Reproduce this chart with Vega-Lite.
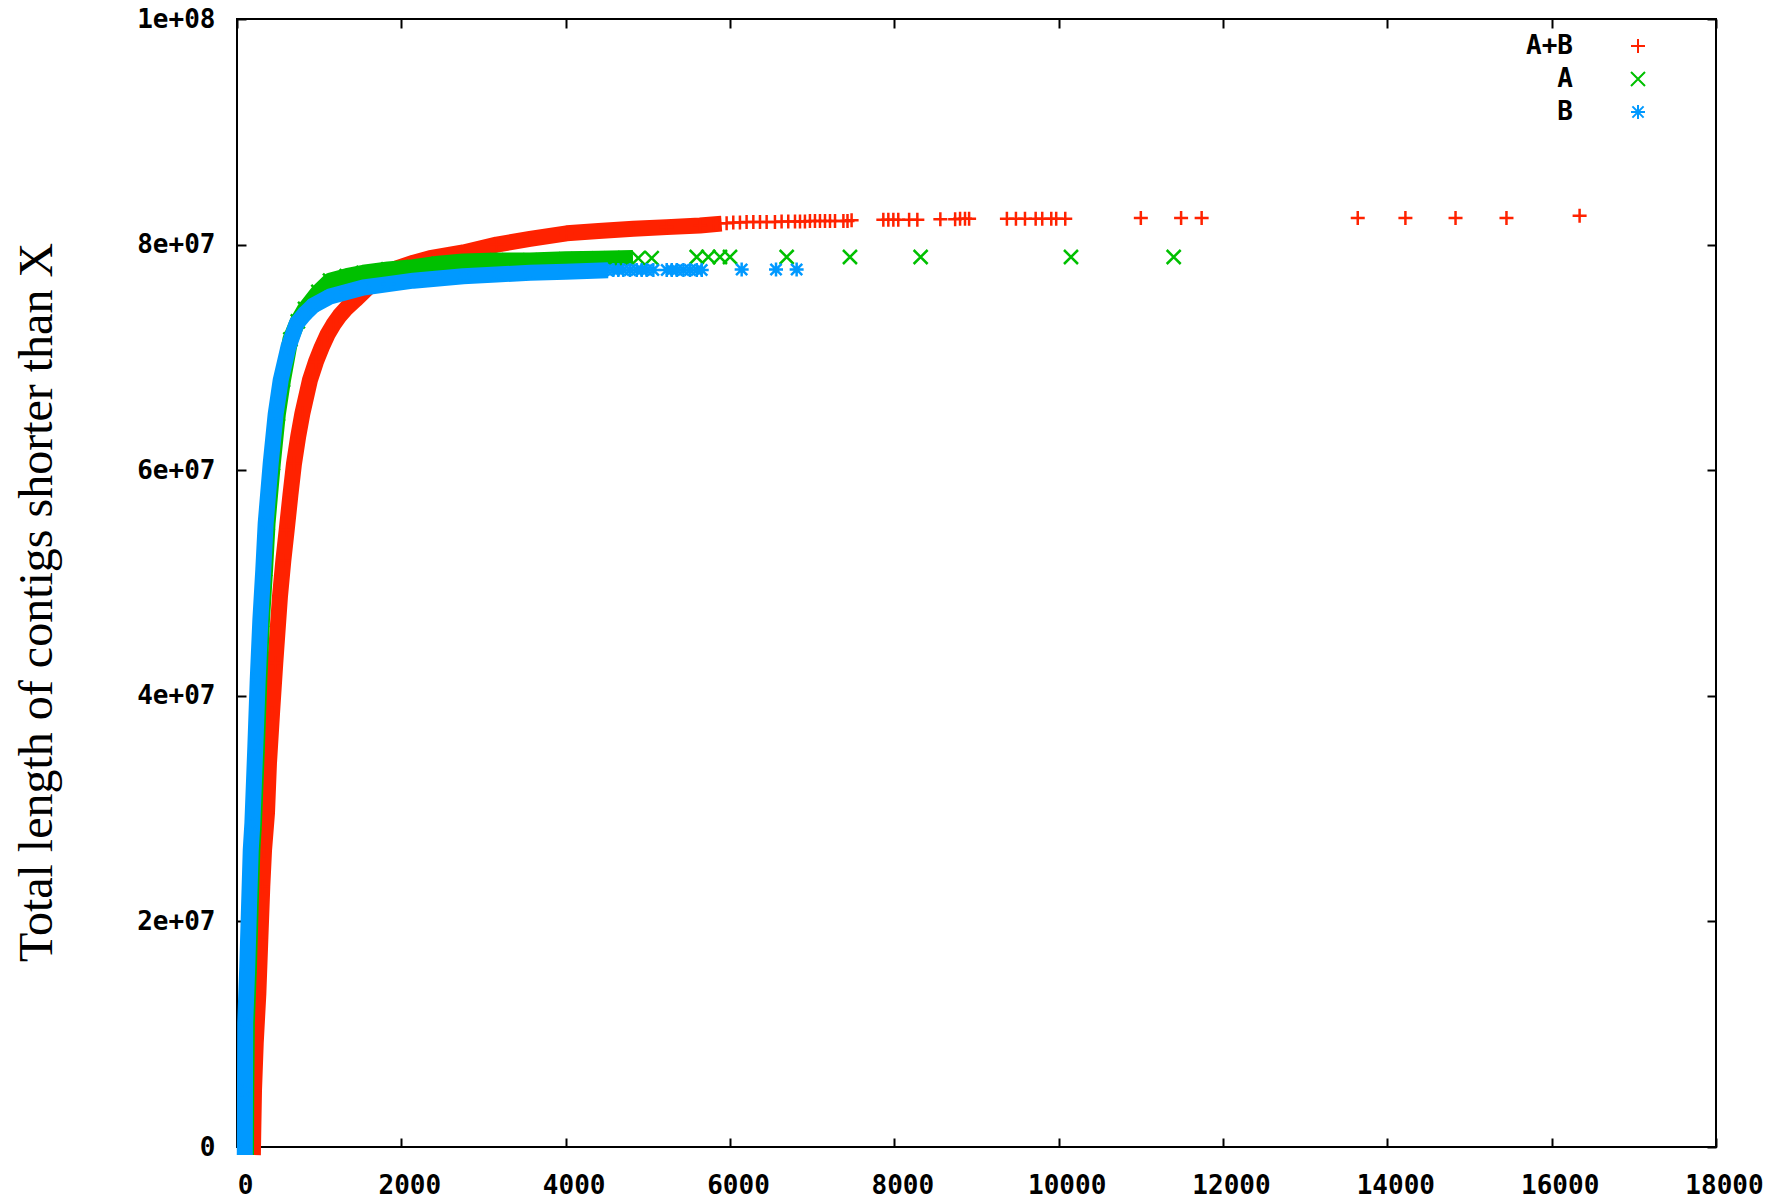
{
  "$schema": "https://vega.github.io/schema/vega-lite/v6.json",
  "width": 1479,
  "height": 1128,
  "autosize": {"type": "none"},
  "padding": {"left": 237, "top": 19, "right": 66, "bottom": 54},
  "background": "white",
  "config": {
    "view": {"stroke": "black", "strokeWidth": 2},
    "legend": {
      "labelFont": "DejaVu Sans Mono",
      "labelFontWeight": "bold",
      "labelFontSize": 26,
      "labelColor": "black",
      "labelAlign": "right",
      "labelOffset": -78,
      "symbolSize": 196,
      "symbolStrokeWidth": 2,
      "rowPadding": 7
    }
  },
  "data": {
    "values": [
      {"s": "A+B", "x": 195, "y": 0},
      {"s": "A+B", "x": 199, "y": 1800000},
      {"s": "A+B", "x": 207, "y": 5000000},
      {"s": "A+B", "x": 228, "y": 9200000},
      {"s": "A+B", "x": 260, "y": 13600000},
      {"s": "A+B", "x": 284, "y": 18400000},
      {"s": "A+B", "x": 308, "y": 23100000},
      {"s": "A+B", "x": 329, "y": 26300000},
      {"s": "A+B", "x": 365, "y": 29600000},
      {"s": "A+B", "x": 389, "y": 34000000},
      {"s": "A+B", "x": 426, "y": 38400000},
      {"s": "A+B", "x": 466, "y": 42900000},
      {"s": "A+B", "x": 523, "y": 48800000},
      {"s": "A+B", "x": 564, "y": 52000000},
      {"s": "A+B", "x": 605, "y": 54700000},
      {"s": "A+B", "x": 650, "y": 57800000},
      {"s": "A+B", "x": 694, "y": 60600000},
      {"s": "A+B", "x": 745, "y": 63000000},
      {"s": "A+B", "x": 795, "y": 65000000},
      {"s": "A+B", "x": 888, "y": 68000000},
      {"s": "A+B", "x": 960, "y": 69600000},
      {"s": "A+B", "x": 1031, "y": 70900000},
      {"s": "A+B", "x": 1100, "y": 72000000},
      {"s": "A+B", "x": 1172, "y": 72900000},
      {"s": "A+B", "x": 1250, "y": 73700000},
      {"s": "A+B", "x": 1335, "y": 74400000},
      {"s": "A+B", "x": 1440, "y": 75100000},
      {"s": "A+B", "x": 1540, "y": 75800000},
      {"s": "A+B", "x": 1640, "y": 76500000},
      {"s": "A+B", "x": 1750, "y": 77100000},
      {"s": "A+B", "x": 1944, "y": 77900000},
      {"s": "A+B", "x": 2150, "y": 78400000},
      {"s": "A+B", "x": 2349, "y": 78800000},
      {"s": "A+B", "x": 2754, "y": 79300000},
      {"s": "A+B", "x": 3160, "y": 80000000},
      {"s": "A+B", "x": 3566, "y": 80500000},
      {"s": "A+B", "x": 4012, "y": 81000000},
      {"s": "A+B", "x": 4400, "y": 81200000},
      {"s": "A+B", "x": 4823, "y": 81400000},
      {"s": "A+B", "x": 5230, "y": 81550000},
      {"s": "A+B", "x": 5635, "y": 81700000},
      {"s": "A+B", "x": 5800, "y": 81800000},
      {"s": "A+B", "x": 5878, "y": 81900000},
      {"s": "A+B", "x": 5959, "y": 81900000},
      {"s": "A+B", "x": 6040, "y": 81950000},
      {"s": "A+B", "x": 6121, "y": 81950000},
      {"s": "A+B", "x": 6202, "y": 82000000},
      {"s": "A+B", "x": 6284, "y": 82000000},
      {"s": "A+B", "x": 6365, "y": 82000000},
      {"s": "A+B", "x": 6446, "y": 82000000},
      {"s": "A+B", "x": 6547, "y": 82000000},
      {"s": "A+B", "x": 6628, "y": 82050000},
      {"s": "A+B", "x": 6709, "y": 82050000},
      {"s": "A+B", "x": 6791, "y": 82050000},
      {"s": "A+B", "x": 6852, "y": 82050000},
      {"s": "A+B", "x": 6912, "y": 82050000},
      {"s": "A+B", "x": 6973, "y": 82100000},
      {"s": "A+B", "x": 7034, "y": 82100000},
      {"s": "A+B", "x": 7095, "y": 82100000},
      {"s": "A+B", "x": 7156, "y": 82100000},
      {"s": "A+B", "x": 7217, "y": 82100000},
      {"s": "A+B", "x": 7278, "y": 82100000},
      {"s": "A+B", "x": 7380, "y": 82100000},
      {"s": "A+B", "x": 7430, "y": 82100000},
      {"s": "A+B", "x": 7480, "y": 82150000},
      {"s": "A+B", "x": 7866, "y": 82200000},
      {"s": "A+B", "x": 7927, "y": 82200000},
      {"s": "A+B", "x": 7988, "y": 82200000},
      {"s": "A+B", "x": 8048, "y": 82200000},
      {"s": "A+B", "x": 8180, "y": 82200000},
      {"s": "A+B", "x": 8280, "y": 82200000},
      {"s": "A+B", "x": 8560, "y": 82250000},
      {"s": "A+B", "x": 8740, "y": 82250000},
      {"s": "A+B", "x": 8800, "y": 82300000},
      {"s": "A+B", "x": 8860, "y": 82300000},
      {"s": "A+B", "x": 8910, "y": 82300000},
      {"s": "A+B", "x": 9370, "y": 82300000},
      {"s": "A+B", "x": 9480, "y": 82300000},
      {"s": "A+B", "x": 9590, "y": 82300000},
      {"s": "A+B", "x": 9720, "y": 82300000},
      {"s": "A+B", "x": 9800, "y": 82300000},
      {"s": "A+B", "x": 9910, "y": 82300000},
      {"s": "A+B", "x": 9970, "y": 82300000},
      {"s": "A+B", "x": 10080, "y": 82300000},
      {"s": "A+B", "x": 11000, "y": 82350000},
      {"s": "A+B", "x": 11490, "y": 82350000},
      {"s": "A+B", "x": 11740, "y": 82350000},
      {"s": "A+B", "x": 13640, "y": 82350000},
      {"s": "A+B", "x": 14220, "y": 82350000},
      {"s": "A+B", "x": 14830, "y": 82350000},
      {"s": "A+B", "x": 15450, "y": 82350000},
      {"s": "A+B", "x": 16340, "y": 82550000},

      {"s": "A", "x": 110, "y": 0},
      {"s": "A", "x": 113, "y": 5000000},
      {"s": "A", "x": 120, "y": 11000000},
      {"s": "A", "x": 146, "y": 16000000},
      {"s": "A", "x": 166, "y": 21200000},
      {"s": "A", "x": 187, "y": 26300000},
      {"s": "A", "x": 207, "y": 28700000},
      {"s": "A", "x": 243, "y": 35500000},
      {"s": "A", "x": 272, "y": 41400000},
      {"s": "A", "x": 304, "y": 46700000},
      {"s": "A", "x": 342, "y": 51200000},
      {"s": "A", "x": 372, "y": 55300000},
      {"s": "A", "x": 436, "y": 60600000},
      {"s": "A", "x": 498, "y": 65000000},
      {"s": "A", "x": 560, "y": 68000000},
      {"s": "A", "x": 650, "y": 71600000},
      {"s": "A", "x": 740, "y": 73200000},
      {"s": "A", "x": 828, "y": 74300000},
      {"s": "A", "x": 990, "y": 75800000},
      {"s": "A", "x": 1132, "y": 76800000},
      {"s": "A", "x": 1335, "y": 77200000},
      {"s": "A", "x": 1538, "y": 77500000},
      {"s": "A", "x": 1840, "y": 77800000},
      {"s": "A", "x": 2146, "y": 78000000},
      {"s": "A", "x": 2450, "y": 78300000},
      {"s": "A", "x": 2754, "y": 78500000},
      {"s": "A", "x": 3160, "y": 78600000},
      {"s": "A", "x": 3566, "y": 78600000},
      {"s": "A", "x": 4000, "y": 78700000},
      {"s": "A", "x": 4400, "y": 78750000},
      {"s": "A", "x": 4722, "y": 78800000},
      {"s": "A", "x": 4884, "y": 78800000},
      {"s": "A", "x": 5047, "y": 78800000},
      {"s": "A", "x": 5595, "y": 78900000},
      {"s": "A", "x": 5736, "y": 78900000},
      {"s": "A", "x": 5878, "y": 78900000},
      {"s": "A", "x": 6000, "y": 78900000},
      {"s": "A", "x": 6690, "y": 78900000},
      {"s": "A", "x": 7460, "y": 78900000},
      {"s": "A", "x": 8320, "y": 78900000},
      {"s": "A", "x": 10150, "y": 78900000},
      {"s": "A", "x": 11400, "y": 78900000},

      {"s": "B", "x": 95, "y": 0},
      {"s": "B", "x": 97, "y": 5000000},
      {"s": "B", "x": 100, "y": 11000000},
      {"s": "B", "x": 125, "y": 16000000},
      {"s": "B", "x": 146, "y": 21200000},
      {"s": "B", "x": 167, "y": 26300000},
      {"s": "B", "x": 187, "y": 28700000},
      {"s": "B", "x": 223, "y": 35500000},
      {"s": "B", "x": 252, "y": 41400000},
      {"s": "B", "x": 284, "y": 46700000},
      {"s": "B", "x": 320, "y": 51200000},
      {"s": "B", "x": 349, "y": 55300000},
      {"s": "B", "x": 410, "y": 60600000},
      {"s": "B", "x": 471, "y": 65000000},
      {"s": "B", "x": 532, "y": 68000000},
      {"s": "B", "x": 625, "y": 70900000},
      {"s": "B", "x": 726, "y": 73000000},
      {"s": "B", "x": 829, "y": 73900000},
      {"s": "B", "x": 929, "y": 74600000},
      {"s": "B", "x": 1132, "y": 75400000},
      {"s": "B", "x": 1335, "y": 75800000},
      {"s": "B", "x": 1538, "y": 76200000},
      {"s": "B", "x": 1840, "y": 76500000},
      {"s": "B", "x": 2146, "y": 76800000},
      {"s": "B", "x": 2450, "y": 77000000},
      {"s": "B", "x": 2754, "y": 77200000},
      {"s": "B", "x": 3160, "y": 77350000},
      {"s": "B", "x": 3566, "y": 77500000},
      {"s": "B", "x": 4000, "y": 77600000},
      {"s": "B", "x": 4418, "y": 77700000},
      {"s": "B", "x": 4499, "y": 77750000},
      {"s": "B", "x": 4580, "y": 77750000},
      {"s": "B", "x": 4641, "y": 77750000},
      {"s": "B", "x": 4702, "y": 77750000},
      {"s": "B", "x": 4783, "y": 77750000},
      {"s": "B", "x": 4864, "y": 77750000},
      {"s": "B", "x": 4925, "y": 77750000},
      {"s": "B", "x": 4986, "y": 77750000},
      {"s": "B", "x": 5067, "y": 77750000},
      {"s": "B", "x": 5230, "y": 77750000},
      {"s": "B", "x": 5291, "y": 77750000},
      {"s": "B", "x": 5352, "y": 77750000},
      {"s": "B", "x": 5433, "y": 77750000},
      {"s": "B", "x": 5514, "y": 77750000},
      {"s": "B", "x": 5595, "y": 77750000},
      {"s": "B", "x": 5656, "y": 77750000},
      {"s": "B", "x": 6142, "y": 77800000},
      {"s": "B", "x": 6560, "y": 77800000},
      {"s": "B", "x": 6811, "y": 77800000}
    ]
  },
  "layer": [
    {
      "encoding": {
        "x": {
          "field": "x", "type": "quantitative",
          "scale": {"domain": [0, 18000], "nice": false, "zero": false},
          "axis": {
            "values": [0, 2000, 4000, 6000, 8000, 10000, 12000, 14000, 16000, 18000],
            "format": "d", "title": null, "domain": false, "grid": false,
            "tickSize": -9, "tickWidth": 2, "tickColor": "black",
            "labelFont": "DejaVu Sans Mono", "labelFontWeight": "bold", "labelFontSize": 26,
            "labelColor": "black", "labelPadding": 34, "labelOffset": 8,
            "labelFlush": false, "labelOverlap": false
          }
        },
        "y": {
          "field": "y", "type": "quantitative",
          "scale": {"domain": [0, 100000000], "nice": false, "zero": false},
          "axis": {
            "values": [0, 20000000, 40000000, 60000000, 80000000, 100000000],
            "labelExpr": "datum.value == 0 ? '0' : (datum.value >= 100000000 ? '1e+08' : format(datum.value / 10000000, 'd') + 'e+07')",
            "domain": false, "grid": false,
            "tickSize": -9, "tickWidth": 2, "tickColor": "black",
            "labelFont": "DejaVu Sans Mono", "labelFontWeight": "bold", "labelFontSize": 26,
            "labelColor": "black", "labelPadding": 31, "labelBaseline": "middle",
            "labelFlush": false, "labelOverlap": false,
            "title": "Total length of contigs shorter than X",
            "titleFont": "Liberation Serif", "titleFontSize": 48, "titleFontWeight": "normal",
            "titleColor": "black", "titleAngle": -90, "titleAlign": "center", "titleBaseline": "middle",
            "titleX": -200, "titleY": 583
          }
        }
      },
      "layer": [
        {
          "transform": [{"filter": "datum.s == 'A+B' && datum.x <= 5800"}],
          "mark": {"type": "line", "color": "#ff2200", "strokeWidth": 16, "strokeCap": "square", "strokeJoin": "round"}
        },
        {
          "transform": [{"filter": "datum.s == 'A+B'"}],
          "mark": {"type": "point", "filled": false, "strokeWidth": 2.5, "size": 196, "opacity": 1},
          "encoding": {
            "color": {"field": "s", "type": "nominal", "title": null,
              "scale": {"domain": ["A+B", "A", "B"], "range": ["#ff2200", "#00c000", "#0099ff"]},
              "legend": {"orient": "none", "legendX": 1388, "legendY": 14}},
            "shape": {"field": "s", "type": "nominal", "title": null,
              "scale": {"domain": ["A+B", "A", "B"], "range": ["M-1,0L1,0M0,-1L0,1", "M-1,-1L1,1M-1,1L1,-1", "M-1,0L1,0M0,-1L0,1M-0.8,-0.8L0.8,0.8M-0.8,0.8L0.8,-0.8"]},
              "legend": {"orient": "none", "legendX": 1388, "legendY": 14}}
          }
        },
        {
          "transform": [{"filter": "datum.s == 'A' && datum.x <= 4722"}],
          "mark": {"type": "line", "color": "#00c000", "strokeWidth": 16, "strokeCap": "square", "strokeJoin": "round"}
        },
        {
          "transform": [{"filter": "datum.s == 'A'"}],
          "mark": {"type": "point", "filled": false, "strokeWidth": 2.5, "size": 196, "opacity": 1},
          "encoding": {
            "color": {"field": "s", "type": "nominal", "title": null,
              "scale": {"domain": ["A+B", "A", "B"], "range": ["#ff2200", "#00c000", "#0099ff"]},
              "legend": {"orient": "none", "legendX": 1388, "legendY": 14}},
            "shape": {"field": "s", "type": "nominal", "title": null,
              "scale": {"domain": ["A+B", "A", "B"], "range": ["M-1,0L1,0M0,-1L0,1", "M-1,-1L1,1M-1,1L1,-1", "M-1,0L1,0M0,-1L0,1M-0.8,-0.8L0.8,0.8M-0.8,0.8L0.8,-0.8"]},
              "legend": {"orient": "none", "legendX": 1388, "legendY": 14}}
          }
        },
        {
          "transform": [{"filter": "datum.s == 'B' && datum.x <= 4418"}],
          "mark": {"type": "line", "color": "#0099ff", "strokeWidth": 16, "strokeCap": "square", "strokeJoin": "round"}
        },
        {
          "transform": [{"filter": "datum.s == 'B'"}],
          "mark": {"type": "point", "filled": false, "strokeWidth": 2.5, "size": 196, "opacity": 1},
          "encoding": {
            "color": {"field": "s", "type": "nominal", "title": null,
              "scale": {"domain": ["A+B", "A", "B"], "range": ["#ff2200", "#00c000", "#0099ff"]},
              "legend": {"orient": "none", "legendX": 1388, "legendY": 14}},
            "shape": {"field": "s", "type": "nominal", "title": null,
              "scale": {"domain": ["A+B", "A", "B"], "range": ["M-1,0L1,0M0,-1L0,1", "M-1,-1L1,1M-1,1L1,-1", "M-1,0L1,0M0,-1L0,1M-0.8,-0.8L0.8,0.8M-0.8,0.8L0.8,-0.8"]},
              "legend": {"orient": "none", "legendX": 1388, "legendY": 14}}
          }
        }
      ]
    },
    {
      "mark": {"type": "point", "opacity": 0},
      "encoding": {
        "x": {
          "field": "x", "type": "quantitative",
          "scale": {"domain": [0, 18000], "nice": false, "zero": false},
          "axis": {
            "orient": "top",
            "values": [0, 2000, 4000, 6000, 8000, 10000, 12000, 14000, 16000, 18000],
            "labels": false, "title": null, "domain": false, "grid": false,
            "tickSize": -9, "tickWidth": 2, "tickColor": "black"
          }
        },
        "y": {
          "field": "y", "type": "quantitative",
          "scale": {"domain": [0, 100000000], "nice": false, "zero": false},
          "axis": {
            "orient": "right",
            "values": [0, 20000000, 40000000, 60000000, 80000000, 100000000],
            "labels": false, "title": null, "domain": false, "grid": false,
            "tickSize": -9, "tickWidth": 2, "tickColor": "black"
          }
        }
      }
    }
  ],
  "resolve": {"axis": {"x": "independent", "y": "independent"}}
}
